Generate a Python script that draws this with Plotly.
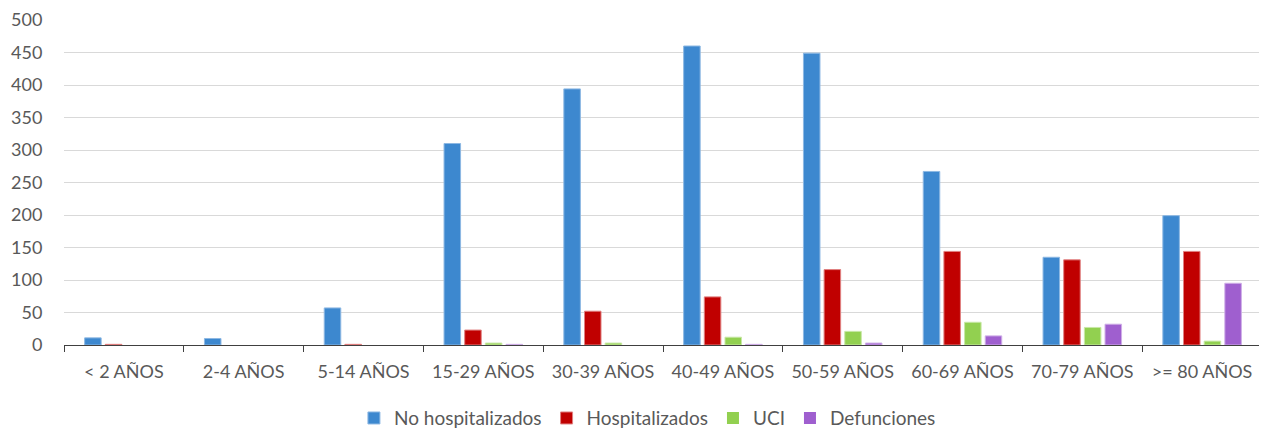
import plotly.graph_objects as go

categories = ["< 2 AÑOS", "2-4 AÑOS", "5-14 AÑOS", "15-29 AÑOS", "30-39 AÑOS",
              "40-49 AÑOS", "50-59 AÑOS", "60-69 AÑOS", "70-79 AÑOS", ">= 80 AÑOS"]
no_hosp = [11, 10, 57, 310, 394, 460, 449, 267, 135, 199]
hosp = [1, 0, 1, 23, 52, 74, 116, 144, 131, 144]
uci = [0, 0, 0, 3, 3, 12, 21, 35, 27, 6]
defunciones = [0, 0, 0, 1, 0, 1, 3, 14, 32, 95]

series = [
    ("No hospitalizados", no_hosp, "#3D88CF", "#8DB8E3"),
    ("Hospitalizados", hosp, "#C00000", "#E08080"),
    ("UCI", uci, "#92D050", "#C8E8A7"),
    ("Defunciones", defunciones, "#9F5FCF", "#CFAFE7"),
]

fig = go.Figure()
for name, vals, col, edge in series:
    widths = [1 if v > 0 else 0 for v in vals]
    fig.add_trace(go.Bar(x=categories, y=vals, name=name,
                         marker=dict(color=col, line=dict(color=edge, width=widths))))

font = "Lato, Open Sans, sans-serif"
fig.update_layout(
    width=1259, height=420,
    margin=dict(l=56, r=5, t=12, b=83, autoexpand=False),
    paper_bgcolor="white", plot_bgcolor="white",
    barmode="group", bargap=0.31, bargroupgap=0.2,
    font=dict(family=font, size=18, color="#595959"),
    showlegend=True,
    legend=dict(orientation="h", x=0.487, xanchor="center", y=-0.225, yanchor="middle",
                font=dict(size=19, color="#595959"), itemwidth=30,
                traceorder="normal"),
    xaxis=dict(showline=True, linecolor="#404040", linewidth=1,
               ticks="outside", ticklen=6, tickcolor="#404040",
               tickson="boundaries", showgrid=False, automargin=False,
               ticklabelstandoff=10,
               tickfont=dict(size=18, color="#595959")),
    yaxis=dict(range=[0, 500], dtick=50, showgrid=True, gridcolor="#D9D9D9",
               gridwidth=1, zeroline=False, showline=False, automargin=False,
               ticks="outside", ticklen=17, tickcolor="white",
               tickfont=dict(size=18, color="#595959")),
)
fig.write_html("out.html")
